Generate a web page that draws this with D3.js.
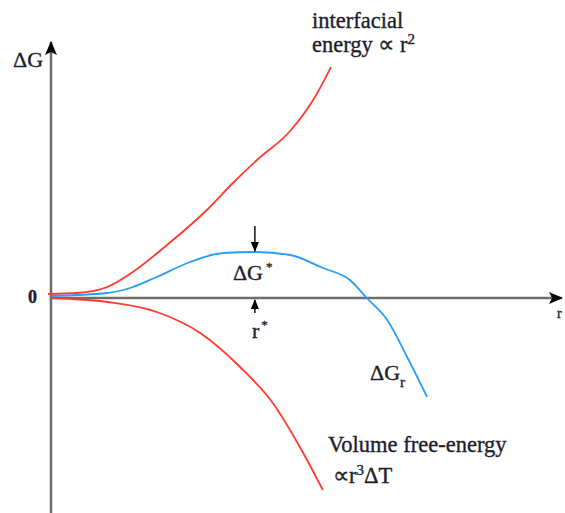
<!DOCTYPE html>
<html>
<head>
<meta charset="utf-8">
<script src="https://cdn.jsdelivr.net/npm/d3@7"></script>
<style>
  html, body { margin: 0; padding: 0; background: #fff; }
  svg { display: block; }
  text { font-family: "Liberation Serif", "Times New Roman", serif; fill: #1d1d2b; stroke: #1d1d2b; stroke-width: 0.35px; }
</style>
</head>
<body>
<svg id="chart" width="565" height="513"></svg>
<script>
// Nucleus radius r (arbitrary units) and free-energy contributions ΔG
const rInterfacial = [-0.06, 0.51, 1.10, 1.60, 2.27, 3.05, 3.56, 4.03, 4.68, 5.13, 5.48];
const gInterfacial = [0.08, 0.10, 0.22, 0.52, 1.06, 1.76, 2.30, 2.76, 3.34, 3.96, 4.62];

const rVolume = [0, 1.10, 2.07, 2.92, 3.70, 4.34, 4.87, 5.32];
const gVolume = [0, -0.08, -0.28, -0.70, -1.38, -2.10, -2.98, -3.84];

const rTotal = [0, 1.10, 1.55, 2.07, 2.72, 3.37, 3.99, 4.68, 5.32, 5.85, 6.18, 6.58, 6.97, 7.36];
const gTotal = [0.04, 0.10, 0.20, 0.42, 0.72, 0.90, 0.92, 0.86, 0.60, 0.36, 0, -0.44, -1.18, -1.98];

// Critical nucleus: radius r* and barrier ΔG*
const rCritical = 3.99;
const gCritical = 0.92;

const yTickValues = [0];
const yTickLabels = ["0"];

const svg = d3.select("#chart");

const x = d3.scaleLinear().domain([0, 10]).range([51, 562]);
const y = d3.scaleLinear().domain([-4.3, 5.12]).range([513, 42]);

// Arrowhead markers
const defs = svg.append("defs");
defs.append("marker")
  .attr("id", "axisHead")
  .attr("viewBox", "0 0 14 12")
  .attr("refX", 13).attr("refY", 6)
  .attr("markerWidth", 14).attr("markerHeight", 12)
  .attr("markerUnits", "userSpaceOnUse")
  .attr("orient", "auto")
  .append("path").attr("d", "M0,0 L14,6 L0,12 L3,6 Z").attr("fill", "#000");
defs.append("marker")
  .attr("id", "smallHead")
  .attr("viewBox", "0 0 10 8")
  .attr("refX", 9).attr("refY", 4)
  .attr("markerWidth", 10).attr("markerHeight", 8)
  .attr("markerUnits", "userSpaceOnUse")
  .attr("orient", "auto")
  .append("path").attr("d", "M0,0 L10,4 L0,8 Z").attr("fill", "#000");

// Axes
svg.append("line")
  .attr("x1", x(0)).attr("y1", 513)
  .attr("x2", x(0)).attr("y2", y(5.12))
  .attr("stroke", "#6e6e6e").attr("stroke-width", 2.6)
  .attr("marker-end", "url(#axisHead)");
svg.append("line")
  .attr("x1", x(0)).attr("y1", y(0))
  .attr("x2", x(10)).attr("y2", y(0))
  .attr("stroke", "#6e6e6e").attr("stroke-width", 2.6)
  .attr("marker-end", "url(#axisHead)");

// Curves
const line = d3.line()
  .x(d => x(d[0]))
  .y(d => y(d[1]))
  .curve(d3.curveMonotoneX);

const series = [
  { r: rInterfacial, g: gInterfacial, color: "#ff3b30" },
  { r: rVolume, g: gVolume, color: "#ff3b30" },
  { r: rTotal, g: gTotal, color: "#2a9df4" }
];
svg.selectAll("path.curve")
  .data(series)
  .join("path")
  .attr("class", "curve")
  .attr("d", s => line(d3.zip(s.r, s.g)))
  .attr("fill", "none")
  .attr("stroke", s => s.color)
  .attr("stroke-width", 1.8);

// Markers for the critical point
svg.append("line")
  .attr("x1", x(rCritical)).attr("y1", y(gCritical) - 26)
  .attr("x2", x(rCritical)).attr("y2", y(gCritical) - 1)
  .attr("stroke", "#000").attr("stroke-width", 1.4)
  .attr("marker-end", "url(#smallHead)");
svg.append("line")
  .attr("x1", x(rCritical)).attr("y1", y(0) + 15)
  .attr("x2", x(rCritical)).attr("y2", y(0) + 2)
  .attr("stroke", "#000").attr("stroke-width", 1.4)
  .attr("marker-end", "url(#smallHead)");

// Y tick label
svg.selectAll("text.ytick")
  .data(yTickValues)
  .join("text")
  .attr("class", "ytick")
  .attr("x", 37).attr("y", d => y(d) + 5)
  .attr("text-anchor", "end")
  .attr("font-size", 18)
  .attr("font-weight", "bold")
  .text((d, i) => yTickLabels[i]);

// Axis titles
svg.append("text").attr("x", 13).attr("y", 67)
  .attr("font-size", 22).text("ΔG");
svg.append("text").attr("x", 557).attr("y", 318)
  .attr("font-size", 14).text("r");

// Curve annotations
const t1 = svg.append("text").attr("x", 312).attr("y", 28).attr("font-size", 22.5);
t1.append("tspan").attr("x", 312).text("interfacial");
t1.append("tspan").attr("x", 312).attr("dy", 24).text("energy ∝ r");
t1.append("tspan").attr("dy", -8).attr("font-size", 15).text("2");

const dg = svg.append("text").attr("x", x(rCritical) - 22).attr("y", 280).attr("font-size", 22);
dg.append("tspan").text("ΔG");
dg.append("tspan").attr("dy", -9).attr("dx", 3).attr("font-size", 13).text("*");

const rs = svg.append("text").attr("x", x(rCritical) - 3).attr("y", 338).attr("font-size", 22);
rs.append("tspan").text("r");
rs.append("tspan").attr("dy", -9).attr("dx", 2).attr("font-size", 13).text("*");

const gr = svg.append("text").attr("x", 370).attr("y", 380).attr("font-size", 22);
gr.append("tspan").text("ΔG");
gr.append("tspan").attr("dy", 7).attr("font-size", 15).text("r");

svg.append("text").attr("x", 328).attr("y", 452).attr("font-size", 22.5).text("Volume free-energy");
const vf = svg.append("text").attr("x", 333).attr("y", 483).attr("font-size", 22.5);
vf.append("tspan").text("∝r");
vf.append("tspan").attr("dy", -8).attr("font-size", 15).text("3");
vf.append("tspan").attr("dy", 8).text("ΔT");
</script>
</body>
</html>
